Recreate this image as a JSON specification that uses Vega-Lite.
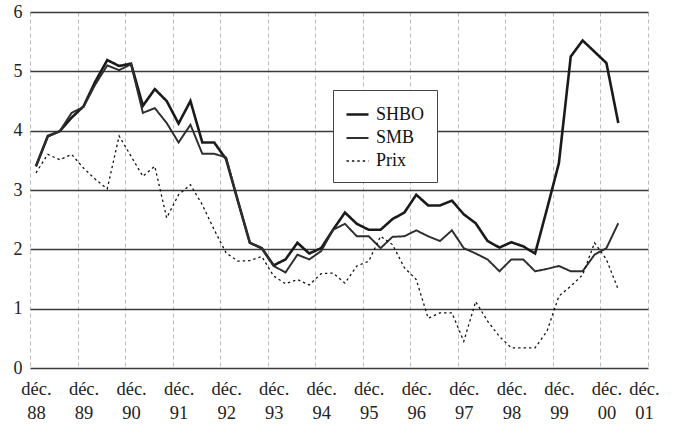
{
  "$schema": "https://vega.github.io/schema/vega-lite/v6.json",
  "width": 618,
  "height": 356,
  "autosize": "none",
  "padding": {"left": 30, "top": 12, "right": 34, "bottom": 57},
  "background": "white",
  "data": {
    "values": [
      {"q": 0.5, "SHBO": 3.40, "SMB": 3.40, "Prix": 3.29},
      {"q": 1.5, "SHBO": 3.91, "SMB": 3.90, "Prix": 3.60},
      {"q": 2.5, "SHBO": 3.99, "SMB": 3.99, "Prix": 3.51},
      {"q": 3.5, "SHBO": 4.22, "SMB": 4.30, "Prix": 3.60},
      {"q": 4.5, "SHBO": 4.41, "SMB": 4.40, "Prix": 3.37},
      {"q": 5.5, "SHBO": 4.83, "SMB": 4.78, "Prix": 3.18},
      {"q": 6.5, "SHBO": 5.19, "SMB": 5.10, "Prix": 3.02},
      {"q": 7.5, "SHBO": 5.09, "SMB": 5.02, "Prix": 3.91},
      {"q": 8.5, "SHBO": 5.13, "SMB": 5.12, "Prix": 3.57},
      {"q": 9.5, "SHBO": 4.42, "SMB": 4.30, "Prix": 3.23},
      {"q": 10.5, "SHBO": 4.70, "SMB": 4.38, "Prix": 3.40},
      {"q": 11.5, "SHBO": 4.50, "SMB": 4.13, "Prix": 2.53},
      {"q": 12.5, "SHBO": 4.12, "SMB": 3.80, "Prix": 2.92},
      {"q": 13.5, "SHBO": 4.50, "SMB": 4.10, "Prix": 3.09},
      {"q": 14.5, "SHBO": 3.80, "SMB": 3.61, "Prix": 2.75},
      {"q": 15.5, "SHBO": 3.80, "SMB": 3.61, "Prix": 2.33},
      {"q": 16.5, "SHBO": 3.52, "SMB": 3.55, "Prix": 1.94},
      {"q": 17.5, "SHBO": 2.81, "SMB": 2.81, "Prix": 1.80},
      {"q": 18.5, "SHBO": 2.11, "SMB": 2.11, "Prix": 1.81},
      {"q": 19.5, "SHBO": 2.02, "SMB": 2.02, "Prix": 1.88},
      {"q": 20.5, "SHBO": 1.73, "SMB": 1.72, "Prix": 1.55},
      {"q": 21.5, "SHBO": 1.83, "SMB": 1.61, "Prix": 1.42},
      {"q": 22.5, "SHBO": 2.11, "SMB": 1.91, "Prix": 1.49},
      {"q": 23.5, "SHBO": 1.93, "SMB": 1.83, "Prix": 1.40},
      {"q": 24.5, "SHBO": 2.02, "SMB": 1.97, "Prix": 1.59},
      {"q": 25.5, "SHBO": 2.33, "SMB": 2.33, "Prix": 1.60},
      {"q": 26.5, "SHBO": 2.62, "SMB": 2.43, "Prix": 1.43},
      {"q": 27.5, "SHBO": 2.43, "SMB": 2.22, "Prix": 1.72},
      {"q": 28.5, "SHBO": 2.33, "SMB": 2.22, "Prix": 1.80},
      {"q": 29.5, "SHBO": 2.33, "SMB": 2.02, "Prix": 2.22},
      {"q": 30.5, "SHBO": 2.51, "SMB": 2.21, "Prix": 2.08},
      {"q": 31.5, "SHBO": 2.62, "SMB": 2.22, "Prix": 1.69},
      {"q": 32.5, "SHBO": 2.92, "SMB": 2.32, "Prix": 1.49},
      {"q": 33.5, "SHBO": 2.74, "SMB": 2.22, "Prix": 0.84},
      {"q": 34.5, "SHBO": 2.74, "SMB": 2.14, "Prix": 0.93},
      {"q": 35.5, "SHBO": 2.82, "SMB": 2.32, "Prix": 0.93},
      {"q": 36.5, "SHBO": 2.59, "SMB": 2.02, "Prix": 0.45},
      {"q": 37.5, "SHBO": 2.44, "SMB": 1.93, "Prix": 1.12},
      {"q": 38.5, "SHBO": 2.14, "SMB": 1.83, "Prix": 0.79},
      {"q": 39.5, "SHBO": 2.03, "SMB": 1.63, "Prix": 0.53},
      {"q": 40.5, "SHBO": 2.12, "SMB": 1.83, "Prix": 0.34},
      {"q": 41.5, "SHBO": 2.05, "SMB": 1.83, "Prix": 0.34},
      {"q": 42.5, "SHBO": 1.93, "SMB": 1.63, "Prix": 0.34},
      {"q": 43.5, "SHBO": 2.68, "SMB": 1.67, "Prix": 0.62},
      {"q": 44.5, "SHBO": 3.45, "SMB": 1.72, "Prix": 1.21},
      {"q": 45.5, "SHBO": 5.25, "SMB": 1.63, "Prix": 1.38},
      {"q": 46.5, "SHBO": 5.52, "SMB": 1.63, "Prix": 1.57},
      {"q": 47.5, "SHBO": 5.33, "SMB": 1.91, "Prix": 2.11},
      {"q": 48.5, "SHBO": 5.14, "SMB": 2.02, "Prix": 1.83},
      {"q": 49.5, "SHBO": 4.13, "SMB": 2.44, "Prix": 1.32}
    ]
  },
  "transform": [{"fold": ["SHBO", "SMB", "Prix"], "as": ["serie", "v"]}],
  "mark": {"type": "line", "strokeJoin": "miter", "interpolate": "linear"},
  "encoding": {
    "x": {
      "field": "q",
      "type": "quantitative",
      "scale": {"domain": [0, 52], "nice": false, "zero": false},
      "axis": {
        "title": null,
        "values": [0, 4, 8, 12, 16, 20, 24, 28, 32, 36, 40, 44, 48, 52],
        "labelExpr": "['déc.', ['88','89','90','91','92','93','94','95','96','97','98','99','00','01'][datum.value / 4]]",
        "labelLineHeight": 24,
        "labelFont": "Liberation Serif",
        "labelFontSize": 18.5,
        "labelColor": "#222",
        "labelPadding": 11,
        "labelOffset": {"condition": {"test": "datum.value == 52", "value": -4}, "value": 6},
        "labelOverlap": false,
        "labelFlush": false,
        "labelBaseline": "top",
        "ticks": false,
        "domain": false,
        "grid": true,
        "gridColor": "#aaa",
        "gridDash": [4, 3],
        "gridWidth": 0.8
      }
    },
    "y": {
      "field": "v",
      "type": "quantitative",
      "scale": {"domain": [0, 6], "nice": false},
      "axis": {
        "title": null,
        "values": [0, 1, 2, 3, 4, 5, 6],
        "labelFont": "Liberation Serif",
        "labelFontSize": 18,
        "labelColor": "#222",
        "labelPadding": 8,
        "ticks": false,
        "domain": false,
        "grid": true,
        "gridColor": "#3a3a3a",
        "gridWidth": 1.3
      }
    },
    "color": {
      "field": "serie",
      "type": "nominal",
      "scale": {"domain": ["SHBO", "SMB", "Prix"], "range": ["#1a1a1a", "#2e2e2e", "#111111"]},
      "legend": {
        "title": null,
        "orient": "none",
        "legendX": 303,
        "legendY": 78,
        "direction": "vertical",
        "symbolType": "stroke",
        "symbolSize": 484,
        "labelFont": "Liberation Serif",
        "labelFontSize": 18,
        "labelColor": "#111",
        "strokeColor": "#444",
        "fillColor": "white",
        "padding": 12,
        "rowPadding": 2,
        "labelOffset": 6
      }
    },
    "strokeDash": {
      "field": "serie",
      "type": "nominal",
      "scale": {"domain": ["SHBO", "SMB", "Prix"], "range": [[1, 0], [1, 0], [2.4, 3]]}
    },
    "strokeWidth": {
      "field": "serie",
      "type": "nominal",
      "scale": {"domain": ["SHBO", "SMB", "Prix"], "range": [2.6, 1.3, 2.3]}
    }
  },
  "config": {"view": {"stroke": null}}
}
